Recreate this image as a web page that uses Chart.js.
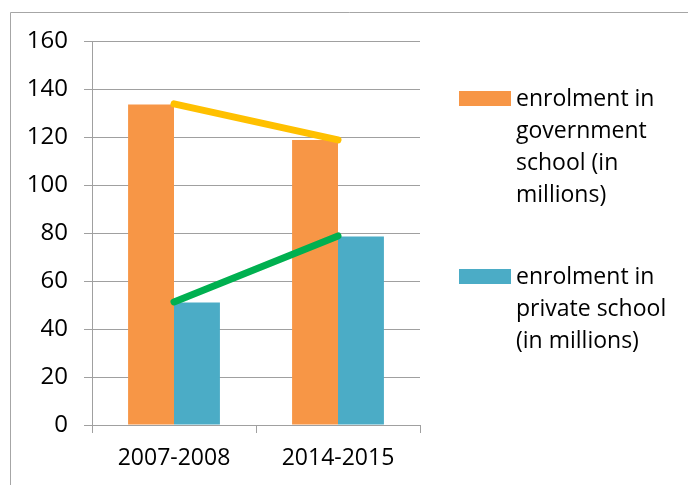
<!DOCTYPE html>
<html>
<head>
<meta charset="utf-8">
<script src="https://cdn.jsdelivr.net/npm/chart.js@4/dist/chart.umd.min.js"></script>
<style>
  html, body { margin: 0; padding: 0; background: #fff; }
  #wrap { width: 688px; height: 485px; }
</style>
</head>
<body>
<div id="wrap"><canvas id="chart" width="688" height="485"></canvas></div>
<script>
const categories = ['2007-2008', '2014-2015'];
const govValues = [133.5, 118.8];
const privValues = [51, 78.5];
const govTrend = [133.8, 118.8];
const privTrend = [51.3, 78.8];
const govLegend = ['enrolment in', 'government', 'school (in', 'millions)'];
const privLegend = ['enrolment in', 'private school', '(in millions)'];

const FONT = '"Open Sans", sans-serif';
const GRID = '#a0a0a0';

// draws the frame on the left/top and the two-block legend on the right
const decor = {
    id: 'decor',
    beforeDraw(chart) {
        const ctx = chart.ctx;
        ctx.save();
        ctx.strokeStyle = '#a6a6a6';
        ctx.lineWidth = 1;
        ctx.beginPath();
        ctx.moveTo(10.5, 485);
        ctx.lineTo(10.5, 12.5);
        ctx.lineTo(688, 12.5);
        ctx.stroke();
        ctx.restore();
    },
    afterDraw(chart) {
        const ctx = chart.ctx;
        const blocks = [
            { lines: govLegend, color: chart.data.datasets[2].backgroundColor, top: 91 },
            { lines: privLegend, color: chart.data.datasets[3].backgroundColor, top: 269 }
        ];
        ctx.save();
        ctx.font = '23px ' + FONT;
        ctx.textBaseline = 'middle';
        blocks.forEach(b => {
            ctx.fillStyle = b.color;
            ctx.fillRect(459, b.top, 52, 15);
            ctx.fillStyle = '#000';
            b.lines.forEach((t, i) => ctx.fillText(t, 516, b.top + 8 + i * 32));
        });
        ctx.restore();
    }
};

new Chart(document.getElementById('chart'), {
    type: 'bar',
    data: {
        labels: categories,
        datasets: [
            {
                type: 'line',
                label: 'government trend',
                data: govTrend,
                borderColor: '#FFC000',
                borderWidth: 7,
                borderCapStyle: 'round',
                pointRadius: 0,
                order: 0
            },
            {
                type: 'line',
                label: 'private trend',
                data: privTrend,
                borderColor: '#00B050',
                borderWidth: 7,
                borderCapStyle: 'round',
                pointRadius: 0,
                order: 0
            },
            {
                label: govLegend.join(' '),
                data: govValues,
                backgroundColor: '#F79646',
                barPercentage: 1,
                categoryPercentage: 0.56,
                order: 1
            },
            {
                label: privLegend.join(' '),
                data: privValues,
                backgroundColor: '#4BACC6',
                barPercentage: 1,
                categoryPercentage: 0.56,
                order: 1
            }
        ]
    },
    options: {
        responsive: false,
        animation: false,
        layout: { padding: { top: 41, right: 268, bottom: 0, left: 0 } },
        plugins: { legend: { display: false }, tooltip: { enabled: false } },
        scales: {
            x: {
                grid: { display: true, drawOnChartArea: false, tickLength: 8, color: GRID },
                border: { color: GRID },
                ticks: { color: '#000', font: { family: FONT, size: 23 }, padding: 12 },
                afterFit: s => { s.height = 60; }
            },
            y: {
                min: 0,
                max: 160,
                ticks: { stepSize: 20, color: '#000', font: { family: FONT, size: 24 }, padding: 16 },
                grid: { color: GRID, tickLength: 8 },
                border: { color: GRID },
                afterFit: s => { s.width = 92; }
            }
        }
    },
    plugins: [decor]
});
</script>
</body>
</html>
